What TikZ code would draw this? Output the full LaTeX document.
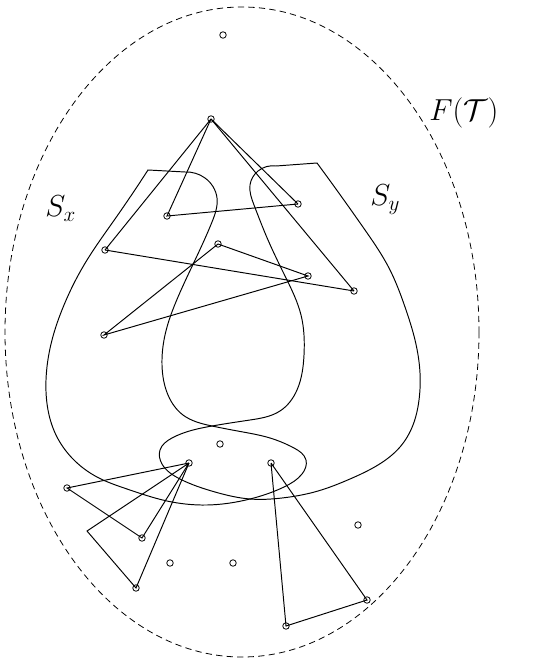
\documentclass[tikz,border=0pt]{standalone}
\usepackage{amsmath}
\usepackage{tikz}
\usetikzlibrary{hobby}

\begin{document}
\begin{tikzpicture}[
  x=0.02cm, y=-0.02cm,
  use Hobby shortcut,
  vertex/.style = {draw, circle, inner sep=0pt, minimum size=3.7pt, line width=0.45pt},
  edge/.style = {line width=0.55pt},
  region/.style = {line width=0.55pt},
  setlabel/.style = {anchor=base west, inner sep=0pt, font=\fontsize{17}{20}\selectfont}
]
\useasboundingbox (0,0) rectangle (550,661);

% ======================================================
% Outer set F(T) (dashed)
% ======================================================
\draw[dash pattern=on 3.6pt off 2.4pt, line width=0.45pt] (242,332) ellipse [x radius=237, y radius=325];
\node[setlabel] (ftlabel) at (429,121) {$F(\mathcal{T})$};

% ======================================================
% Regions S_x and S_y
% ======================================================
\draw[region] (148,170) .. (115,219) .. (84,265) .. (64,305) .. (52,340)
  .. (46,380) .. (48,410) .. (56,435) .. (72,458) .. (97,477) .. (127,489)
  .. (167,501) .. (207,505) .. (250,499) .. (284,487) .. (302,474) .. (306,460)
  .. (294,448) .. (270,438) .. (243,432) .. (212,426) .. (183,415) .. (168,395)
  .. (162,365) .. (165,335) .. (178,297) .. (196,258) .. (212,222) .. (217,198)
  .. (205,178) .. (185,172) -- cycle;
\node[setlabel] (sxlabel) at (45,217) {$S_x$};

\draw[region] (317,163) .. (341,196) .. (365,230) .. (389,268) .. (405,307)
  .. (415,340) .. (420,373) .. (419,400) .. (413,425) .. (400,447) .. (378,465)
  .. (350,479) .. (318,491) .. (282,498) .. (250,499) .. (215,492) .. (180,479)
  .. (162,464) .. (160,450) .. (172,438) .. (212,426) .. (250,420) .. (280,411)
  .. (297,390) .. (304,355) .. (301,315) .. (286,278) .. (268,240) .. (254,205)
  .. (250,185) .. (258,171) .. (276,166) -- cycle;
\node[setlabel] (sylabel) at (370,206) {$S_y$};

% ======================================================
% Points
% ======================================================
\node[vertex] (p1) at (223,35) {};
\node[vertex] (p2) at (211,119) {};
\node[vertex] (p3) at (167,216) {};
\node[vertex] (p4) at (298,204) {};
\node[vertex] (p5) at (105,250) {};
\node[vertex] (p6) at (218,244) {};
\node[vertex] (p7) at (308,276) {};
\node[vertex] (p8) at (354,291) {};
\node[vertex] (p9) at (104,335) {};
\node[vertex] (p10) at (220,444) {};
\node[vertex] (p11) at (189,463) {};
\node[vertex] (p12) at (271,463) {};
\node[vertex] (p13) at (67,488) {};
\node[vertex] (p14) at (142,538) {};
\node[vertex] (p15) at (358,525) {};
\node[vertex] (p16) at (170,563) {};
\node[vertex] (p17) at (233,563) {};
\node[vertex] (p18) at (136,588) {};
\node[vertex] (p19) at (367,600) {};
\node[vertex] (p20) at (286,626) {};
\coordinate (bend) at (87,531);

% Edges from the top point
\draw[edge] (p2.center) -- (p5.center);
\draw[edge] (p2.center) -- (p3.center) -- (p4.center);
\draw[edge] (p2.center) -- (p4.center);
\draw[edge] (p2.center) -- (p8.center);

% Crossing edges in the middle
\draw[edge] (p5.center) -- (p8.center);
\draw[edge] (p6.center) -- (p7.center) -- (p9.center) -- (p6.center);

% Bottom left
\draw[edge] (p11.center) -- (p13.center) -- (p14.center) -- (p11.center);
\draw[edge] (p11.center) -- (bend) -- (p18.center) -- (p11.center);

% Bottom right
\draw[edge] (p12.center) -- (p20.center) -- (p19.center) -- (p12.center);
\end{tikzpicture}
\end{document}
